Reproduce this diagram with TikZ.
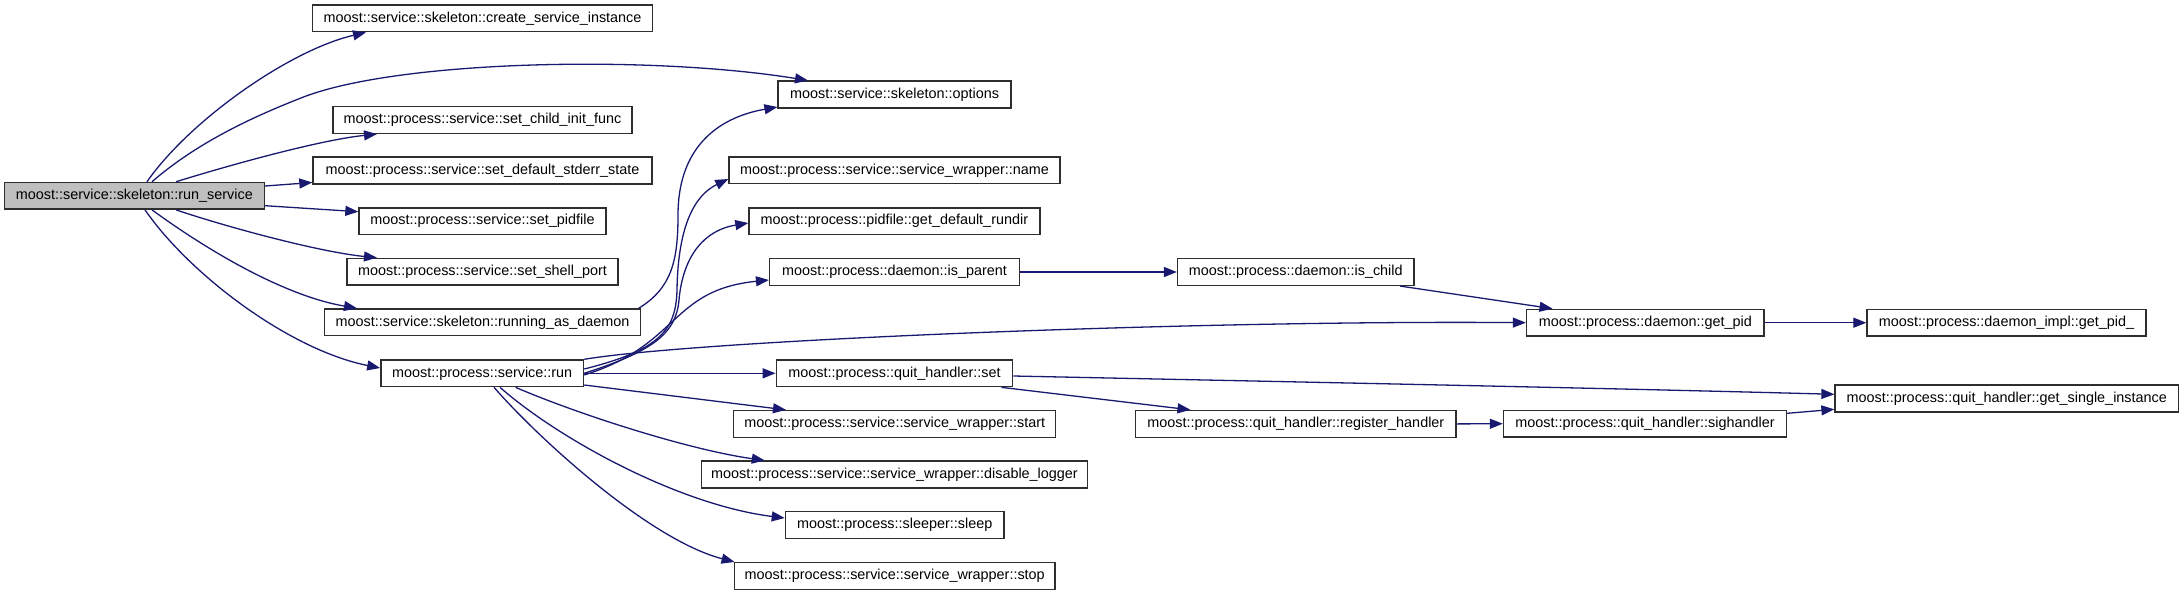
\documentclass[tikz,border=0pt]{standalone}
\usepackage{fontspec}
\setmainfont{Liberation Sans}
\usetikzlibrary{arrows.meta}
\definecolor{edgeblue}{HTML}{191970}
\definecolor{boxline}{HTML}{2E2E2E}
\definecolor{rootfill}{HTML}{BFBFBF}
\begin{document}
\begin{tikzpicture}[x=1pt,y=-1pt,
  fn/.style={draw=boxline,line width=1.4pt,fill=white,inner sep=0pt,minimum height=26.7pt,
    font=\fontsize{14.4pt}{17pt}\selectfont,anchor=center},
  root/.style={fn,fill=rootfill},
  call/.style={draw=edgeblue,line width=1.3pt,-{Triangle[length=13pt,width=10pt]},fill=none},
]
\useasboundingbox (0,0) rectangle (2184,595);
% nodes
\node[root,minimum width=259.8pt] (rs) at (134.4,195.8) {moost::service::skeleton::run\_service};
\node[fn,minimum width=340.2pt] (create) at (482.6,18.35) {moost::service::skeleton::create\_service\_instance};
\node[fn,minimum width=233pt] (options) at (894.6,94.5) {moost::service::skeleton::options};
\node[fn,minimum width=299pt] (child) at (482.5,120) {moost::process::service::set\_child\_init\_func};
\node[fn,minimum width=339pt] (stderr) at (482.5,170.5) {moost::process::service::set\_default\_stderr\_state};
\node[fn,minimum width=247pt] (pidfile) at (482.5,221.2) {moost::process::service::set\_pidfile};
\node[fn,minimum width=271pt] (shell) at (482.5,271.8) {moost::process::service::set\_shell\_port};
\node[fn,minimum width=316pt] (rad) at (482.6,322.3) {moost::service::skeleton::running\_as\_daemon};
\node[fn,minimum width=202.7pt] (run) at (482.2,373.3) {moost::process::service::run};
\node[fn,minimum width=331pt] (name) at (894.5,170.4) {moost::process::service::service\_wrapper::name};
\node[fn,minimum width=290.8pt] (rundir) at (894.4,221.2) {moost::process::pidfile::get\_default\_rundir};
\node[fn,minimum width=249.7pt] (isparent) at (894.5,272) {moost::process::daemon::is\_parent};
\node[fn,minimum width=236.4pt] (ischild) at (1295.8,272) {moost::process::daemon::is\_child};
\node[fn,minimum width=237.5pt] (getpid) at (1645.3,322.7) {moost::process::daemon::get\_pid};
\node[fn,minimum width=279pt] (getpidi) at (2006.5,322.7) {moost::process::daemon\_impl::get\_pid\_};
\node[fn,minimum width=236.3pt] (qset) at (894.5,373.3) {moost::process::quit\_handler::set};
\node[fn,minimum width=321.9pt] (start) at (894.7,423.9) {moost::process::service::service\_wrapper::start};
\node[fn,minimum width=385.5pt] (disable) at (894.5,474.5) {moost::process::service::service\_wrapper::disable\_logger};
\node[fn,minimum width=218.6pt] (sleep) at (894.7,525) {moost::process::sleeper::sleep};
\node[fn,minimum width=320.9pt] (stop) at (894.7,576) {moost::process::service::service\_wrapper::stop};
\node[fn,minimum width=320.5pt] (register) at (1295.8,423.9) {moost::process::quit\_handler::register\_handler};
\node[fn,minimum width=343.5pt] (gsi) at (2006.8,398.5) {moost::process::quit\_handler::get\_single\_instance};
\node[fn,minimum width=283pt] (sigh) at (1645,423.7) {moost::process::quit\_handler::sighandler};
% edges from run_service
\draw[call] ([xshift=12.6pt]rs.north) .. controls (190,120) and (290,50) .. ([xshift=-116.6pt]create.south);
\draw[call] ([xshift=17.6pt]rs.north) .. controls (200,140) and (260,114) .. (303.5,97)
  .. controls (400,60) and (650,55) .. ([xshift=-86.6pt]options.north);
\draw[call] ([xshift=41.6pt]rs.north) .. controls (230,165) and (320,140) .. ([xshift=-105.5pt]child.south);
\draw[call] ([yshift=9.8pt]rs.east) -- ([yshift=-12pt]stderr.west);
\draw[call] ([yshift=-9.9pt]rs.east) -- ([yshift=9.5pt]pidfile.west);
\draw[call] ([xshift=41.6pt]rs.south) .. controls (230,228) and (320,252) .. ([xshift=-105.5pt]shell.north);
\draw[call] ([xshift=17.6pt]rs.south) .. controls (200,245) and (280,295) .. ([xshift=-125.6pt]rad.north);
\draw[call] ([xshift=10.6pt]rs.south) .. controls (190,275) and (290,350) .. ([yshift=5.3pt]run.west);
% running_as_daemon
\draw[call] ([xshift=-2.6pt]rad.north east) .. controls (672,288) and (678,260) .. (678,215)
  .. controls (678,150) and (715,118) .. ([yshift=-12.5pt]options.west);
% edges from run
\draw[call] ([yshift=4.3pt]run.east) .. controls (660,350) and (676,330) .. (677,290)
  .. controls (678,225) and (695,195) .. ([yshift=-8.6pt]name.west);
\draw[call] (run.east) .. controls (650,352) and (676,335) .. (679,300)
  .. controls (683,255) and (705,230) .. ([yshift=-1.8pt]rundir.west);
\draw[call] ([yshift=-1.7pt]run.east) .. controls (680,345) and (670,290) .. ([yshift=-8pt]isparent.west);
\draw[call] ([yshift=14pt]run.east) .. controls (700,340) and (1200,320) .. (getpid.west);
\draw[call] (run.east) -- (qset.west);
\draw[call] ([yshift=-11.7pt]run.east) -- ([xshift=-108.7pt]start.north);
\draw[call] ([xshift=33.4pt]run.south) .. controls (580,415) and (690,450) .. ([xshift=-129.7pt]disable.north);
\draw[call] ([xshift=17.8pt]run.south) .. controls (560,440) and (680,505) .. ([yshift=7pt]sleep.west);
\draw[call] ([xshift=11.8pt]run.south) .. controls (540,440) and (650,540) .. ([xshift=1pt]stop.north west);
% right part
\draw[call] (isparent.east) -- (ischild.west);
\draw[call] ([xshift=104.2pt]ischild.south) -- ([xshift=-92.8pt]getpid.north);
\draw[call] (getpid.east) -- (getpidi.west);
\draw[call] ([yshift=-2.7pt]qset.east) .. controls (1300,382) and (1600,388) .. ([yshift=4.2pt]gsi.west);
\draw[call] ([xshift=107pt]qset.south) -- ([xshift=-105.3pt]register.north);
\draw[call] (register.east) -- (sigh.west);
\draw[call] ([yshift=10.4pt]sigh.east) -- ([yshift=-10.8pt]gsi.west);
\end{tikzpicture}
\end{document}
